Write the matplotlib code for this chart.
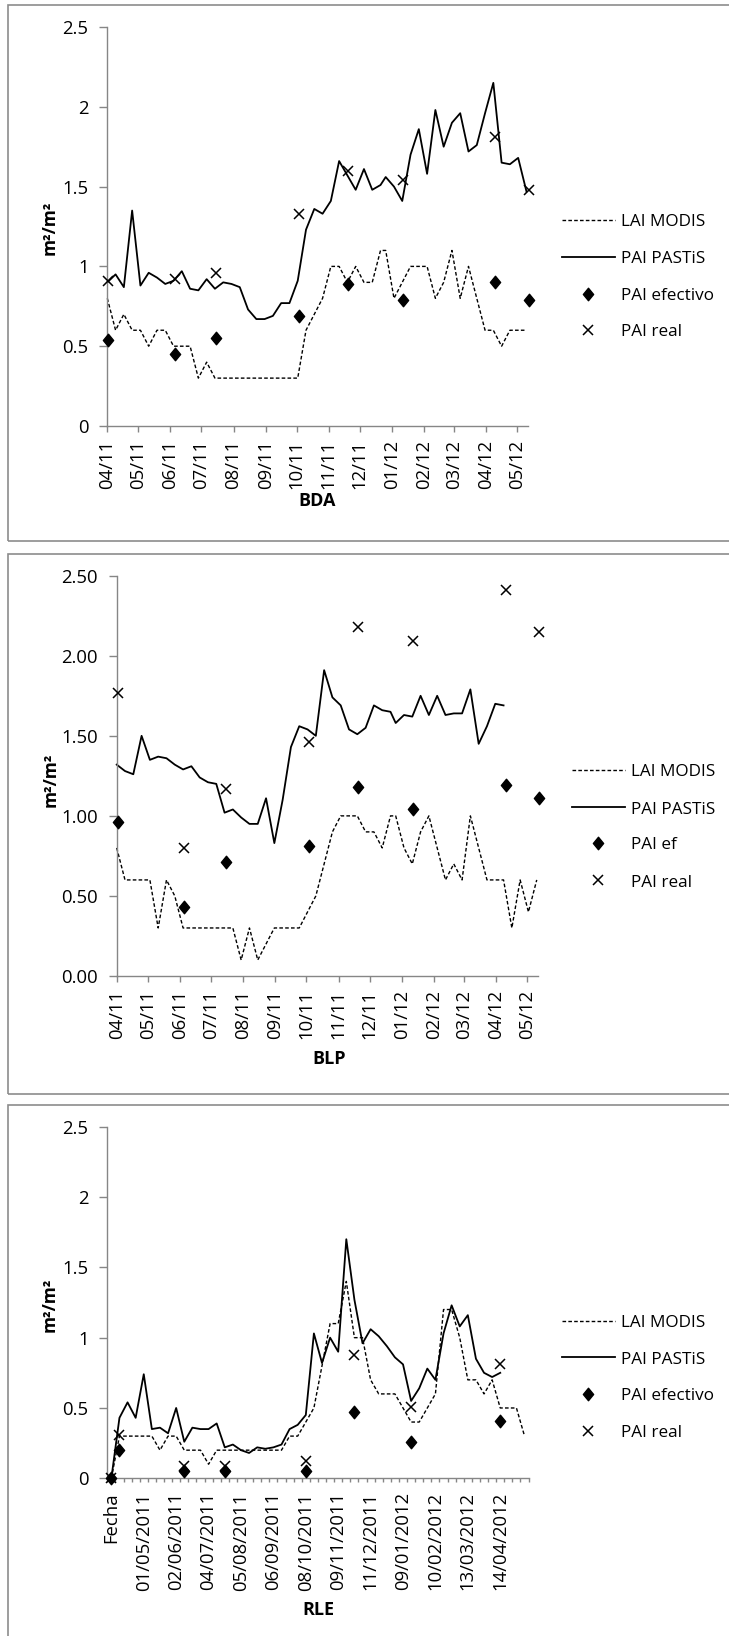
import numpy as np
import pandas as pd
import matplotlib
matplotlib.use("Agg")
import matplotlib.pyplot as plt
import matplotlib.dates as mdates
from matplotlib.patches import Rectangle
from matplotlib.lines import Line2D
from matplotlib.path import Path
from matplotlib.ticker import FixedLocator, NullFormatter

plt.rcParams["font.family"] = ["Open Sans", "DejaVu Sans"]

# MODIS 8-day composite dates
modis_dates = pd.to_datetime([
    "2011-04-07", "2011-04-15", "2011-04-23", "2011-05-01", "2011-05-09", "2011-05-17",
    "2011-05-25", "2011-06-02", "2011-06-10", "2011-06-18", "2011-06-26", "2011-07-04",
    "2011-07-12", "2011-07-20", "2011-07-28", "2011-08-05", "2011-08-13", "2011-08-21",
    "2011-08-29", "2011-09-06", "2011-09-14", "2011-09-22", "2011-09-30", "2011-10-08",
    "2011-10-16", "2011-10-24", "2011-11-01", "2011-11-09", "2011-11-17", "2011-11-25",
    "2011-12-03", "2011-12-11", "2011-12-19", "2011-12-27", "2012-01-01", "2012-01-09",
    "2012-01-17", "2012-01-25", "2012-02-02", "2012-02-10", "2012-02-18", "2012-02-26",
    "2012-03-05", "2012-03-13", "2012-03-21", "2012-03-29", "2012-04-06", "2012-04-14",
    "2012-04-22", "2012-04-30", "2012-05-08", "2012-05-16"])

# field campaign dates
field_dates = pd.to_datetime([
    "2011-04-08", "2011-06-11", "2011-07-21", "2011-10-09",
    "2011-11-26", "2012-01-18", "2012-04-16", "2012-05-18"])

# ---- BDA ----
bda_lai = [0.8, 0.6, 0.7, 0.6, 0.6, 0.5, 0.6, 0.6, 0.5, 0.5, 0.5, 0.3, 0.4, 0.3,
           0.3, 0.3, 0.3, 0.3, 0.3, 0.3, 0.3, 0.3, 0.3, 0.3, 0.6, 0.7, 0.8, 1.0,
           1.0, 0.9, 1.0, 0.9, 0.9, 1.1, 1.1, 0.8, 0.9, 1.0, 1.0, 1.0, 0.8, 0.9,
           1.1, 0.8, 1.0, 0.8, 0.6, 0.6, 0.5, 0.6, 0.6, 0.6]
bda_pastis = [0.90, 0.95, 0.87, 1.35, 0.88, 0.96, 0.93, 0.89, 0.91, 0.97, 0.86, 0.85,
              0.92, 0.86, 0.90, 0.89, 0.87, 0.73, 0.67, 0.67, 0.69, 0.77, 0.77, 0.91,
              1.23, 1.36, 1.33, 1.41, 1.66, 1.57, 1.48, 1.61, 1.48, 1.51, 1.56, 1.50,
              1.41, 1.70, 1.86, 1.58, 1.98, 1.75, 1.90, 1.96, 1.72, 1.76, 1.96, 2.15,
              1.65, 1.64, 1.68, 1.47]
bda_ef = [0.54, 0.45, 0.55, 0.69, 0.89, 0.79, 0.90, 0.79]
bda_real = [0.91, 0.92, 0.96, 1.33, 1.60, 1.54, 1.81, 1.48]

# ---- BLP ----
blp_lai = [0.8, 0.6, 0.6, 0.6, 0.6, 0.3, 0.6, 0.5, 0.3, 0.3, 0.3, 0.3, 0.3, 0.3,
           0.3, 0.1, 0.3, 0.1, 0.2, 0.3, 0.3, 0.3, 0.3, 0.4, 0.5, 0.7, 0.9, 1.0,
           1.0, 1.0, 0.9, 0.9, 0.8, 1.0, 1.0, 0.8, 0.7, 0.9, 1.0, 0.8, 0.6, 0.7,
           0.6, 1.0, 0.8, 0.6, 0.6, 0.6, 0.3, 0.6, 0.4, 0.6]
blp_pastis = [1.32, 1.28, 1.26, 1.50, 1.35, 1.37, 1.36, 1.32, 1.29, 1.31, 1.24, 1.21,
              1.20, 1.02, 1.04, 0.99, 0.95, 0.95, 1.11, 0.83, 1.10, 1.43, 1.56, 1.54,
              1.50, 1.91, 1.74, 1.69, 1.54, 1.51, 1.55, 1.69, 1.66, 1.65, 1.58, 1.63,
              1.62, 1.75, 1.63, 1.75, 1.63, 1.64, 1.64, 1.79, 1.45, 1.56, 1.70, 1.69,
              np.nan, np.nan, np.nan, np.nan]
blp_ef = [0.96, 0.43, 0.71, 0.81, 1.18, 1.04, 1.19, 1.11]
blp_real = [1.77, 0.80, 1.17, 1.46, 2.18, 2.09, 2.41, 2.15]

# ---- RLE (category axis, first row is the sheet header) ----
rle_cats = ["Fecha"] + [d.strftime("%d/%m/%Y") for d in modis_dates[:51]]
rle_lai = [0, 0.3, 0.3, 0.3, 0.3, 0.3, 0.2, 0.3, 0.3, 0.2, 0.2, 0.2, 0.1, 0.2,
           0.2, 0.2, 0.2, 0.2, 0.2, 0.2, 0.2, 0.2, 0.3, 0.3, 0.4, 0.5, 0.8, 1.1,
           1.1, 1.4, 1.0, 1.0, 0.7, 0.6, 0.6, 0.6, 0.5, 0.4, 0.4, 0.5, 0.6, 1.2,
           1.2, 1.0, 0.7, 0.7, 0.6, 0.7, 0.5, 0.5, 0.5, 0.3]
rle_pastis = [0, 0.43, 0.54, 0.43, 0.74, 0.35, 0.36, 0.32, 0.50, 0.26, 0.36, 0.35,
              0.35, 0.39, 0.22, 0.24, 0.20, 0.18, 0.22, 0.21, 0.22, 0.24, 0.35, 0.38,
              0.45, 1.03, 0.82, 1.00, 0.90, 1.70, 1.27, 0.96, 1.06, 1.01, 0.94, 0.86,
              0.81, 0.55, 0.64, 0.78, 0.70, 1.03, 1.23, 1.08, 1.16, 0.85, 0.75, 0.72,
              0.75, np.nan, np.nan, np.nan]
rle_field_idx = [0, 1, 9, 14, 24, 30, 37, 48]
rle_ef = [0, 0.20, 0.05, 0.05, 0.05, 0.47, 0.26, 0.41]
rle_real = [0, 0.31, 0.09, 0.09, 0.12, 0.88, 0.51, 0.81]

W, H = 729, 1636
GRAY = "#868686"
TICK_FS = 13.3
LEG_FS = 12.3
LAB_FS = 13

fig = plt.figure(figsize=(W / 100, H / 100), dpi=100)


def fx(x):
    return x / W


def fy(y):
    return 1 - y / H


def axes_px(left, top, right, bottom):
    return fig.add_axes([fx(left), fy(bottom), (right - left) / W, (bottom - top) / H])


# diamond marker, slightly taller than wide
diamond = Path([(0, 1), (0.82, 0), (0, -1), (-0.82, 0), (0, 1)],
               [Path.MOVETO, Path.LINETO, Path.LINETO, Path.LINETO, Path.CLOSEPOLY])

LAI_KW = dict(color="black", lw=1.0, dashes=(2.6, 1.6))
PASTIS_KW = dict(color="black", lw=1.3)
EF_KW = dict(linestyle="none", marker=diamond, ms=9, color="black")
REAL_KW = dict(linestyle="none", marker="x", ms=7.5, mew=1.1, color="black")


def style_axes(ax, ylabels):
    for s in ("top", "right"):
        ax.spines[s].set_visible(False)
    for s in ("left", "bottom"):
        ax.spines[s].set_color(GRAY)
        ax.spines[s].set_linewidth(1.0)
    ax.set_ylim(0, 2.5)
    ax.set_yticks([0, 0.5, 1, 1.5, 2, 2.5])
    ax.set_yticklabels(ylabels)
    ax.tick_params(axis="y", direction="out", length=5.5, width=1.0, color=GRAY,
                   labelsize=TICK_FS, pad=8)
    ax.tick_params(axis="x", direction="out", length=4, width=1.0, color=GRAY,
                   labelsize=TICK_FS, pad=6)
    ax.patch.set_alpha(0)


def draw_series(ax, x, lai, pastis, xf, ef, real):
    ax.plot(x, lai, clip_on=False, **LAI_KW)
    ax.plot(x, pastis, clip_on=False, **PASTIS_KW)
    ax.plot(xf, ef, clip_on=False, zorder=4, **EF_KW)
    ax.plot(xf, real, clip_on=False, zorder=4, **REAL_KW)


def legend_rows(x0, rows, labels):
    # handle 53 px long, text 6 px after it
    x1 = x0 + 53
    xm = (x0 + x1) / 2
    kws = [LAI_KW, PASTIS_KW, EF_KW, REAL_KW]
    for i, (y, lab) in enumerate(zip(rows, labels)):
        if i < 2:
            fig.add_artist(Line2D([fx(x0), fx(x1)], [fy(y), fy(y)],
                                  transform=fig.transFigure, **kws[i]))
        else:
            fig.add_artist(Line2D([fx(xm)], [fy(y)], transform=fig.transFigure,
                                  **kws[i]))
        fig.text(fx(x1 + 6), fy(y + 6.2), lab, ha="left", va="baseline",
                 fontsize=LEG_FS)


def frame(top, bottom):
    fig.add_artist(Rectangle((fx(8), fy(bottom)), fx(760) - fx(8), fy(top) - fy(bottom),
                             transform=fig.transFigure, fill=False,
                             edgecolor="#8c8c8c", lw=1.2))


def titles(ylab_xy, xlab_xy, name):
    fig.text(fx(ylab_xy[0]), fy(ylab_xy[1]), "m²/m²", rotation=90, ha="center",
             va="center", fontsize=12.5, fontweight="bold")
    fig.text(fx(xlab_xy[0]), fy(xlab_xy[1]), name, ha="center", va="center",
             fontsize=LAB_FS, fontweight="bold")


def month_axis(ax):
    ax.set_xlim(pd.Timestamp("2011-04-07"), pd.Timestamp("2012-05-17 12:00"))
    ax.xaxis.set_major_locator(mdates.MonthLocator(bymonthday=7))
    ax.xaxis.set_major_formatter(mdates.DateFormatter("%m/%y"))
    plt.setp(ax.get_xticklabels(), rotation=90, ha="center", va="top")


frame(4.5, 541)
frame(554.5, 1093.5)
frame(1104.5, 1700)

# ---- BDA panel ----
ax1 = axes_px(107.3, 27, 528, 426)
draw_series(ax1, modis_dates, bda_lai, bda_pastis, field_dates, bda_ef, bda_real)
style_axes(ax1, ["0", "0.5", "1", "1.5", "2", "2.5"])
month_axis(ax1)
legend_rows(561.6, [219.7, 257.2, 293.7, 329.5],
            ["LAI MODIS", "PAI PASTiS", "PAI efectivo", "PAI real"])
titles((50, 228), (317, 500.5), "BDA")

# ---- BLP panel ----
ax2 = axes_px(116.7, 575.7, 538.3, 976)
draw_series(ax2, modis_dates, blp_lai, blp_pastis, field_dates, blp_ef, blp_real)
style_axes(ax2, ["0.00", "0.50", "1.00", "1.50", "2.00", "2.50"])
month_axis(ax2)
legend_rows(571.8, [770.2, 807.4, 843.2, 880.4],
            ["LAI MODIS", "PAI PASTiS", "PAI ef", "PAI real"])
titles((51, 780), (329, 1058.7), "BLP")

# ---- RLE panel ----
ax3 = axes_px(107.3, 1126.7, 528.6, 1478.3)
cx = np.arange(len(rle_cats)) + 0.5
draw_series(ax3, cx, rle_lai, rle_pastis, cx[rle_field_idx], rle_ef, rle_real)
style_axes(ax3, ["0", "0.5", "1", "1.5", "2", "2.5"])
ax3.set_xlim(0, len(rle_cats))
ax3.set_xticks(cx[::4])
ax3.set_xticklabels(rle_cats[::4], rotation=90, ha="center", va="top")
ax3.tick_params(axis="x", which="major", length=0, pad=10)
ax3.xaxis.set_minor_locator(FixedLocator(np.arange(len(rle_cats) + 1)))
ax3.xaxis.set_minor_formatter(NullFormatter())
ax3.tick_params(axis="x", which="minor", direction="out", length=3.2, width=1.0,
                color=GRAY)
legend_rows(561.6, [1320.8, 1357.4, 1393.6, 1430.5],
            ["LAI MODIS", "PAI PASTiS", "PAI efectivo", "PAI real"])
titles((50, 1305), (318, 1610), "RLE")

fig.savefig("out.png", dpi=100)
